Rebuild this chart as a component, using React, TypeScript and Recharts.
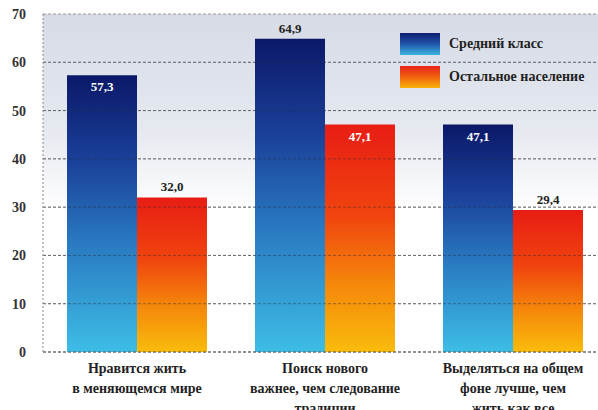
import { BarChart, Bar, XAxis, YAxis, CartesianGrid, Legend, LabelList, ReferenceLine } from 'recharts';

const categories = [
  'Нравится жить\nв меняющемся мире',
  'Поиск нового\nважнее, чем следование\nтрадиции',
  'Выделяться на общем\nфоне лучше, чем\nжить как все',
];
const middleClass = [57.3, 64.9, 47.1];
const restPopulation = [32.0, 47.1, 29.4];
const seriesNames = ['Средний класс', 'Остальное население'];
const yTicks = [0, 10, 20, 30, 40, 50, 60, 70];

// value labels drawn inside the bar top (white) instead of above it
const labelInside: { [key: string]: boolean[] } = {
  middle: [true, false, true],
  rest: [false, true, false],
};

const FONT = "'Liberation Serif', 'DejaVu Serif', serif";

const chartData = categories.map((name, i) => ({
  name,
  middle: middleClass[i],
  rest: restPopulation[i],
}));

const CategoryTick = (props: any) => {
  const { x, y, payload } = props;
  const lines = String(payload.value).split('\n');
  return (
    <text x={x} y={y} textAnchor="middle" fill="#222" style={{ fontFamily: FONT, fontWeight: 'bold', fontSize: 14 }}>
      {lines.map((line, i) => (
        <tspan key={i} x={x} dy={i === 0 ? 19 : 20}>
          {line}
        </tspan>
      ))}
    </text>
  );
};

const makeLabel = (key: string) => (props: any) => {
  const { x, y, width, value, index } = props;
  const inside = labelInside[key][index];
  const text = Number(value).toFixed(1).replace('.', ',');
  return (
    <text
      x={x + width / 2}
      y={inside ? y + 16 : y - 6}
      textAnchor="middle"
      fill={inside ? '#ffffff' : '#222'}
      style={{ fontFamily: FONT, fontWeight: 'bold', fontSize: 13 }}
    >
      {text}
    </text>
  );
};

const swatches = [
  'linear-gradient(to bottom, #0e1d70, #1f55a8 50%, #3cb6e2)',
  'linear-gradient(to bottom, #e8231a, #f2610f 50%, #f8b20a)',
];

const renderLegend = () => (
  <div style={{ fontFamily: FONT, fontWeight: 'bold', fontSize: 14, color: '#222', whiteSpace: 'nowrap' }}>
    {seriesNames.map((name, i) => (
      <div key={name} style={{ display: 'flex', alignItems: 'center', height: 22, marginBottom: 11 }}>
        <div style={{ width: 40, height: 22, background: swatches[i], marginRight: 9, flexShrink: 0 }} />
        <span>{name}</span>
      </div>
    ))}
  </div>
);

export default function App() {
  return (
    <div style={{ position: 'absolute', left: 0, top: 0, width: 598, height: 410, overflow: 'hidden', background: '#fff' }}>
      <BarChart
        width={610}
        height={410}
        data={chartData}
        margin={{ top: 14, right: 3, left: 0, bottom: 0 }}
        barCategoryGap={24}
        barGap={0}
      >
        <defs>
          <linearGradient id="bgGrad" x1="0" y1="0" x2="0" y2="1">
            <stop offset="0%" stopColor="#d6dbe6" />
            <stop offset="35%" stopColor="#e6e9f0" />
            <stop offset="58%" stopColor="#ffffff" />
            <stop offset="100%" stopColor="#ffffff" />
          </linearGradient>
          <linearGradient id="blueGrad" x1="0" y1="0" x2="0" y2="1">
            <stop offset="0%" stopColor="#0b1868" />
            <stop offset="30%" stopColor="#1a3f98" />
            <stop offset="62%" stopColor="#2a7cc2" />
            <stop offset="100%" stopColor="#3dbde6" />
          </linearGradient>
          <linearGradient id="redGrad" x1="0" y1="0" x2="0" y2="1">
            <stop offset="0%" stopColor="#e81d14" />
            <stop offset="40%" stopColor="#f0440e" />
            <stop offset="70%" stopColor="#f5870b" />
            <stop offset="100%" stopColor="#f9bc0b" />
          </linearGradient>
        </defs>
        <CartesianGrid
          vertical={false}
          fill="url(#bgGrad)"
          fillOpacity={1}
          stroke="#9a9a9a"
          strokeDasharray="3 2"
        />
        <XAxis
          dataKey="name"
          interval={0}
          height={58}
          tickLine={false}
          tickSize={0}
          tick={<CategoryTick />}
          axisLine={{ stroke: '#555', strokeDasharray: '3 2' }}
        />
        <YAxis
          width={43}
          domain={[0, 70]}
          ticks={yTicks}
          tickLine={false}
          tickSize={0}
          tickMargin={17}
          axisLine={{ stroke: '#8a8a8a', strokeDasharray: '2 2' }}
          tick={{ fill: '#333', fontSize: 14, style: { fontFamily: FONT, fontWeight: 'bold' } }}
        />
        <Legend
          layout="vertical"
          align="center"
          verticalAlign="middle"
          content={renderLegend}
          wrapperStyle={{ top: 33, left: 400, width: 205, height: 80 }}
        />
        <Bar dataKey="middle" name={seriesNames[0]} fill="url(#blueGrad)" isAnimationActive={false}>
          <LabelList dataKey="middle" content={makeLabel('middle')} />
        </Bar>
        <Bar dataKey="rest" name={seriesNames[1]} fill="url(#redGrad)" isAnimationActive={false}>
          <LabelList dataKey="rest" content={makeLabel('rest')} />
        </Bar>
        {yTicks.slice(1, -1).map((t) => (
          <ReferenceLine key={t} y={t} stroke="rgba(40,40,60,0.45)" strokeDasharray="3 2" />
        ))}
      </BarChart>
    </div>
  );
}
